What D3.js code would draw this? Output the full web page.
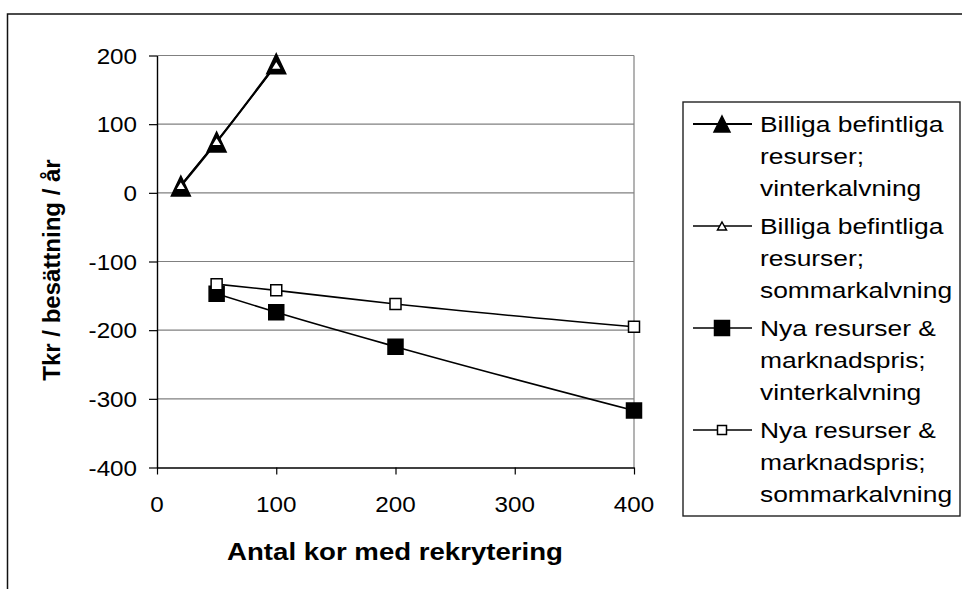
<!DOCTYPE html>
<html>
<head>
<meta charset="utf-8">
<script src="https://cdn.jsdelivr.net/npm/d3@7"></script>
<style>
  html, body { margin: 0; padding: 0; background: #fff; }
  svg { display: block; }
  text { font-family: "Liberation Sans", Arial, sans-serif; fill: #000; }
</style>
</head>
<body>
<div id="chart"></div>
<script>
// data
var xTicks = [0, 100, 200, 300, 400];
var yTicks = [-400, -300, -200, -100, 0, 100, 200];

var cowsBilliga = [20, 50, 100];
var billigaVinter = [10, 74, 188];
var billigaSommar = [11, 75, 186];

var cowsNya = [50, 100, 200, 400];
var nyaVinter = [-147, -174, -224, -317];
var nyaSommar = [-133, -142, -162, -195];

var legendLabels = [
    ["Billiga befintliga", "resurser;", "vinterkalvning"],
    ["Billiga befintliga", "resurser;", "sommarkalvning"],
    ["Nya resurser &", "marknadspris;", "vinterkalvning"],
    ["Nya resurser &", "marknadspris;", "sommarkalvning"]
];

var width = 962, height = 589;
var svg = d3.select("#chart").append("svg")
    .attr("width", width)
    .attr("height", height);

// outer chart border (runs off the right and bottom edge)
svg.append("rect")
    .attr("x", 7.5).attr("y", 14)
    .attr("width", 1000).attr("height", 700)
    .attr("fill", "#fff")
    .attr("stroke", "#111")
    .attr("stroke-width", 1.5);

var x = d3.scaleLinear().domain([0, 400]).range([157, 634]);
var y = d3.scaleLinear().domain([-400, 200]).range([467.5, 55.5]);

// gridlines
svg.selectAll(".grid")
    .data(yTicks.filter(d => d > -400))
    .enter()
    .append("line")
    .attr("class", "grid")
    .attr("x1", x(0)).attr("x2", x(400))
    .attr("y1", d => y(d)).attr("y2", d => y(d))
    .attr("stroke", "#808080")
    .attr("stroke-width", 1.2);

svg.append("line")
    .attr("x1", x(400)).attr("x2", x(400))
    .attr("y1", y(200)).attr("y2", y(-400))
    .attr("stroke", "#808080")
    .attr("stroke-width", 1.2);

// stretched text helper (the original is drawn a bit wide)
function stretch(sel, sx) {
    sel.each(function() {
        var t = d3.select(this);
        var tx = +t.attr("data-x"), ty = +t.attr("data-y");
        t.attr("transform", "translate(" + tx + "," + ty + ") scale(" + sx + ",1)");
    });
}

// axes
var yAxis = svg.append("g")
    .attr("transform", "translate(" + x(0) + ",0)")
    .call(d3.axisLeft(y).tickValues(yTicks).tickSize(8).tickSizeOuter(0).tickFormat(d3.format("d")));
var xAxis = svg.append("g")
    .attr("transform", "translate(0," + y(-400) + ")")
    .call(d3.axisBottom(x).tickValues(xTicks).tickSize(7).tickSizeOuter(0).tickFormat(d3.format("d")));

[yAxis, xAxis].forEach(function(g) {
    g.select(".domain").attr("stroke", "#000").attr("stroke-width", 1.4);
    g.selectAll(".tick line").attr("stroke", "#000").attr("stroke-width", 1.2);
    g.selectAll(".tick text").remove();
});

svg.selectAll(".ylab")
    .data(yTicks)
    .enter()
    .append("text")
    .attr("class", "ylab")
    .attr("data-x", 137)
    .attr("data-y", d => y(d) + 8)
    .attr("text-anchor", "end")
    .attr("font-size", 22)
    .text(d => d)
    .call(stretch, 1.1);

svg.selectAll(".xlab")
    .data(xTicks)
    .enter()
    .append("text")
    .attr("class", "xlab")
    .attr("data-x", d => x(d))
    .attr("data-y", 512)
    .attr("text-anchor", "middle")
    .attr("font-size", 22)
    .text(d => d)
    .call(stretch, 1.1);

svg.append("text")
    .attr("data-x", 395).attr("data-y", 560)
    .attr("text-anchor", "middle")
    .attr("font-size", 24)
    .attr("font-weight", "bold")
    .text("Antal kor med rekrytering")
    .call(stretch, 1.15);

svg.append("text")
    .attr("transform", "translate(60,270) rotate(-90)")
    .attr("text-anchor", "middle")
    .attr("font-size", 24)
    .attr("font-weight", "bold")
    .text("Tkr / besättning / år");

// markers
function triangle(w, h) {
    return "M0," + (-h / 2) + "L" + (w / 2) + "," + (h / 2) + "L" + (-w / 2) + "," + (h / 2) + "Z";
}
function square(s) {
    return "M" + (-s / 2) + "," + (-s / 2) + "h" + s + "v" + s + "h" + (-s) + "Z";
}

var series = [
    { xs: cowsBilliga, ys: billigaVinter, marker: triangle(19, 20), lmarker: triangle(16, 16), fill: "#000", lw: 2.2 },
    { xs: cowsBilliga, ys: billigaSommar, marker: triangle(11, 9), lmarker: triangle(9, 8), fill: "#fff", lw: 1.6 },
    { xs: cowsNya, ys: nyaVinter, marker: square(15), lmarker: square(15), fill: "#000", lw: 1.6 },
    { xs: cowsNya, ys: nyaSommar, marker: square(11), lmarker: square(9), fill: "#fff", lw: 1.6 }
];

var line = d3.line()
    .x(d => x(d[0]))
    .y(d => y(d[1]))
    .curve(d3.curveMonotoneX);

series.forEach(function(s) {
    var pts = s.xs.map((v, i) => [v, s.ys[i]]);
    svg.append("path")
        .datum(pts)
        .attr("d", line)
        .attr("fill", "none")
        .attr("stroke", "#000")
        .attr("stroke-width", s.lw);
    svg.selectAll(null)
        .data(pts)
        .enter()
        .append("path")
        .attr("d", s.marker)
        .attr("transform", d => "translate(" + x(d[0]) + "," + y(d[1]) + ")")
        .attr("fill", s.fill)
        .attr("stroke", "#000")
        .attr("stroke-width", 1.5);
});

// legend
var lg = svg.append("g");
lg.append("rect")
    .attr("x", 683).attr("y", 102)
    .attr("width", 277).attr("height", 414)
    .attr("fill", "#fff")
    .attr("stroke", "#222")
    .attr("stroke-width", 1.4);

var entryStep = 102, lineStep = 32, firstBase = 132;

series.forEach(function(s, i) {
    var base = firstBase + i * entryStep;
    var cy = base - 8;
    lg.append("line")
        .attr("x1", 693).attr("x2", 752)
        .attr("y1", cy).attr("y2", cy)
        .attr("stroke", "#000")
        .attr("stroke-width", s.lw);
    lg.append("path")
        .attr("d", s.lmarker)
        .attr("transform", "translate(722," + cy + ")")
        .attr("fill", s.fill)
        .attr("stroke", "#000")
        .attr("stroke-width", 1.5);
    lg.selectAll(null)
        .data(legendLabels[i])
        .enter()
        .append("text")
        .attr("data-x", 760)
        .attr("data-y", (d, j) => base + j * lineStep)
        .attr("font-size", 22)
        .text(d => d)
        .call(stretch, 1.2);
});
</script>
</body>
</html>
